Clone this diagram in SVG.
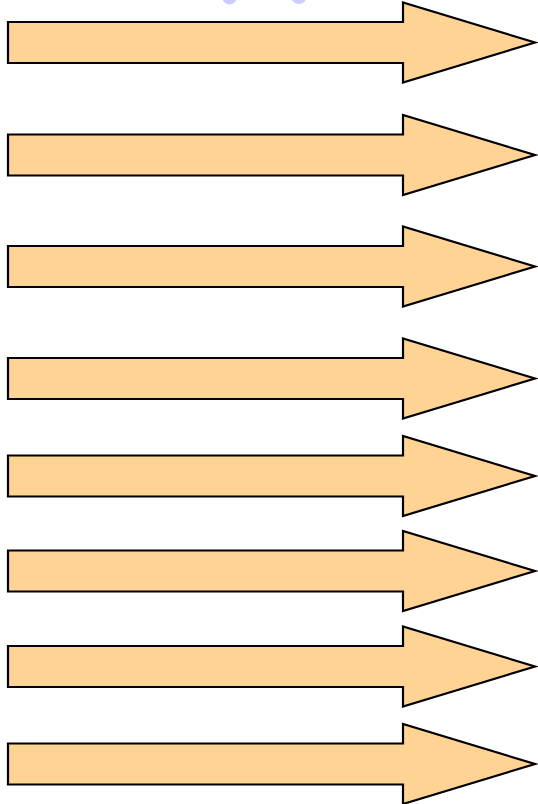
<svg xmlns="http://www.w3.org/2000/svg" xmlns:xlink="http://www.w3.org/1999/xlink" width="538" height="804" viewBox="0 0 538 804">
<style>
.arrow{fill:#ffd393;stroke:#000;stroke-width:2.2;stroke-linejoin:miter}
.blob{fill:#ccccff;stroke:none}
</style>
<defs>
<path id="arr" class="arrow" d="M8,-20.5 H403 V-40 L535,0 L403,40 V20.5 H8 Z"/>
</defs>
<rect width="538" height="804" fill="#fff"/>
<g id="decor">
<ellipse class="blob" cx="229.5" cy="-2" rx="7" ry="6.5"/>
<ellipse class="blob" cx="299" cy="-3" rx="7.5" ry="7"/>
</g>
<g id="connectors"></g>
<g id="arrow1" transform="translate(0,42.5)"><use xlink:href="#arr"/></g>
<g id="arrow2" transform="translate(0,155)"><use xlink:href="#arr"/></g>
<g id="arrow3" transform="translate(0,266.5)"><use xlink:href="#arr"/></g>
<g id="arrow4" transform="translate(0,378.5)"><use xlink:href="#arr"/></g>
<g id="arrow5" transform="translate(0,476)"><use xlink:href="#arr"/></g>
<g id="arrow6" transform="translate(0,571)"><use xlink:href="#arr"/></g>
<g id="arrow7" transform="translate(0,666.5)"><use xlink:href="#arr"/></g>
<g id="arrow8" transform="translate(0,764)"><use xlink:href="#arr"/></g>
</svg>
